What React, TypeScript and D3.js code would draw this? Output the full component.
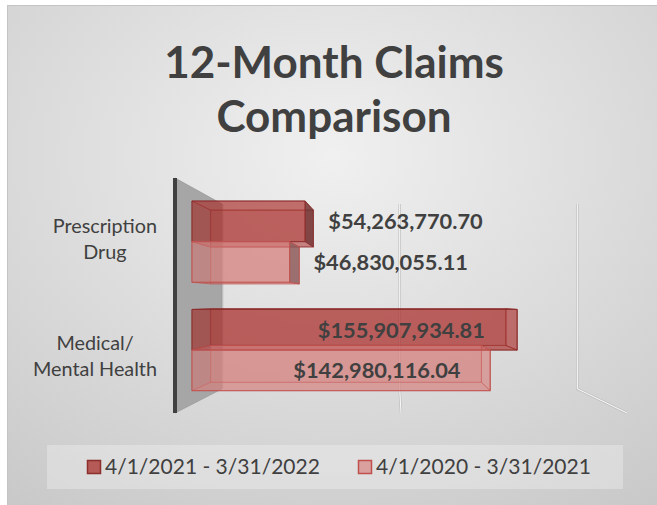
import React, { useEffect, useRef } from "react";
import * as d3 from "d3";

const categories = ["Prescription Drug", "Medical/ Mental Health"];
const categoryLines = [["Prescription", "Drug"], ["Medical/", "Mental Health"]];
const seriesNames = ["4/1/2021 - 3/31/2022", "4/1/2020 - 3/31/2021"];
const values2021 = [54263770.7, 155907934.81];
const values2020 = [46830055.11, 142980116.04];
const gridTicks = [0, 100000000, 200000000];
const titleLines = ["12-Month Claims", "Comparison"];

const W = 657;
const H = 505;
const FONT = "Lato, 'Open Sans', sans-serif";
const TEXT = "#404040";

// perspective
const VX = 395;
const VY = 300;
const WALL_BACK = 0.786;
const BAR_FRONT = 0.923;
const BAR_BACK = 0.838;

const seriesStyle = [
  { fill: "#a92e2a", dark: "#6e3030", edge: "#8b2e2c" },
  { fill: "#d57d7a", dark: "#8a5c5c", edge: "#c0504d" },
];

const fmt = (v: number) => "$" + d3.format(",.2f")(v);

export default function App() {
  const ref = useRef<SVGSVGElement>(null);

  useEffect(() => {
    const svg = d3.select(ref.current);
    svg.selectAll("*").remove();

    const defs = svg.append("defs");
    const rg = defs
      .append("radialGradient")
      .attr("id", "bg")
      .attr("cx", 0.5)
      .attr("cy", 0.3)
      .attr("r", 0.85);
    rg.append("stop").attr("offset", 0).attr("stop-color", "#f0f0f0");
    rg.append("stop").attr("offset", 1).attr("stop-color", "#c9c9c9");

    svg
      .append("rect")
      .attr("x", 7.5)
      .attr("y", 5.5)
      .attr("width", W - 7)
      .attr("height", H - 5)
      .attr("fill", "url(#bg)")
      .attr("stroke", "#c4c4c4")
      .attr("stroke-width", 1);

    // title
    const title = svg
      .append("text")
      .attr("text-anchor", "middle")
      .attr("font-family", FONT)
      .attr("font-weight", 700)
      .attr("font-size", 44)
      .attr("fill", TEXT);
    titleLines.forEach((t, i) => {
      title.append("tspan").attr("x", 334).attr("y", 78 + i * 54).text(t);
    });

    const x = d3.scaleLinear().domain([0, 200000000]).range([175, 627]);
    const y = d3.scaleBand().domain(categories).range([178, 413]).padding(0);
    const ys = d3
      .scaleBand()
      .domain(seriesNames)
      .range([0, y.bandwidth()])
      .paddingInner(0)
      .paddingOuter(0.335);

    const proj = (X: number, Y: number, s: number): [number, number] => [
      VX + (X - VX) * s,
      VY + (Y - VY) * s,
    ];
    const yTop = 178;
    const yBot = 413;

    // gridlines on back wall and floor
    const grid = svg.append("g");
    gridTicks.forEach((t) => {
      const pts: [number, number][] = [
        proj(x(t), yTop, WALL_BACK),
        proj(x(t), yBot, WALL_BACK),
      ];
      if (t !== 0) pts.push(proj(x(t), yBot, 1));
      const line = d3.line();
      grid
        .append("path")
        .attr("d", line(pts))
        .attr("fill", "none")
        .attr("stroke", "#c2c2c2")
        .attr("stroke-width", 2.6);
      grid
        .append("path")
        .attr("d", line(pts))
        .attr("fill", "none")
        .attr("stroke", "#fafafa")
        .attr("stroke-width", 1);
    });

    // side wall
    const wallPts = [
      proj(x(0), yTop, 1),
      proj(x(0), yTop, WALL_BACK),
      proj(x(0), yBot, WALL_BACK),
      proj(x(0), yBot, 1),
    ];
    svg
      .append("polygon")
      .attr("points", wallPts.map((p) => p.join(",")).join(" "))
      .attr("fill", "#a6a6a6")
      .attr("stroke", "#9a9a9a")
      .attr("stroke-width", 0.8);
    svg
      .append("line")
      .attr("x1", x(0))
      .attr("x2", x(0))
      .attr("y1", yTop)
      .attr("y2", yBot)
      .attr("stroke", "#404040")
      .attr("stroke-width", 4);

    // bars
    const seriesValues = [values2021, values2020];
    const bars = svg.append("g");
    const labels = svg.append("g");
    const poly = (pts: [number, number][]) => pts.map((p) => p.join(",")).join(" ");

    categories.forEach((cat, i) => {
      seriesNames.forEach((ser, j) => {
        const v = seriesValues[j][i];
        const st = seriesStyle[j];
        const Yt = (y(cat) as number) + (ys(ser) as number);
        const Yb = Yt + ys.bandwidth();
        const X0 = x(0);
        const X1 = x(v);
        const F = BAR_FRONT;
        const B = BAR_BACK;
        const g = bars.append("g");
        const face = (pts: [number, number][], fill: string, op: number, sop = 0.7) =>
          g
            .append("polygon")
            .attr("points", poly(pts))
            .attr("fill", fill)
            .attr("fill-opacity", op)
            .attr("stroke", st.edge)
            .attr("stroke-opacity", sop)
            .attr("stroke-width", 1)
            .attr("stroke-linejoin", "round");

        face([proj(X0, Yt, B), proj(X1, Yt, B), proj(X1, Yb, B), proj(X0, Yb, B)], st.fill, 0.4, 0.5);
        face([proj(X0, Yt, F), proj(X0, Yb, F), proj(X0, Yb, B), proj(X0, Yt, B)], st.dark, 0.25, 0.4);
        face([proj(X0, Yt, F), proj(X1, Yt, F), proj(X1, Yt, B), proj(X0, Yt, B)], st.fill, 0.25, 0.5);
        face([proj(X0, Yb, F), proj(X1, Yb, F), proj(X1, Yb, B), proj(X0, Yb, B)], st.fill, 0.25, 0.5);
        const rightVisible = X1 < VX;
        face(
          [proj(X1, Yt, F), proj(X1, Yb, F), proj(X1, Yb, B), proj(X1, Yt, B)],
          rightVisible ? st.dark : st.fill,
          rightVisible ? 0.8 : 0.2,
          0.8
        );
        face([proj(X0, Yt, F), proj(X1, Yt, F), proj(X1, Yb, F), proj(X0, Yb, F)], st.fill, 0.55, 0.9);

        const cy = (proj(X0, Yt, F)[1] + proj(X0, Yb, F)[1]) / 2;
        const inside = v > 100000000;
        const lx = inside ? proj(X1, Yt, B)[0] - 21 : (proj(X1, Yt, F)[0] + proj(X1, Yt, B)[0]) / 2 + 19;
        labels
          .append("text")
          .attr("x", lx)
          .attr("y", cy)
          .attr("dy", "0.36em")
          .attr("text-anchor", inside ? "end" : "start")
          .attr("font-family", FONT)
          .attr("font-weight", 700)
          .attr("font-size", 21.8)
          .attr("fill", TEXT)
          .text(fmt(v));
      });
    });

    // category labels (block right-aligned at axis)
    const catG = svg.append("g");
    categories.forEach((cat, i) => {
      const lines = categoryLines[i];
      const cyc = (y(cat) as number) + y.bandwidth() / 2 + 2;
      const t = catG
        .append("text")
        .attr("font-family", FONT)
        .attr("font-size", 19.8)
        .attr("fill", TEXT)
        .attr("text-anchor", "middle");
      const lh = 26;
      lines.forEach((ln, k) => {
        t.append("tspan")
          .attr("x", 0)
          .attr("y", cyc + (k - (lines.length - 1) / 2) * lh)
          .attr("dy", "0.35em")
          .text(ln);
      });
      const node = t.node() as SVGTextElement;
      const w = node.getBBox().width;
      t.selectAll("tspan").attr("x", 157 - w / 2);
    });

    // legend
    const lg = svg.append("g");
    lg.append("rect")
      .attr("x", 47)
      .attr("y", 445)
      .attr("width", 576)
      .attr("height", 44)
      .attr("fill", "#ffffff")
      .attr("fill-opacity", 0.28);
    const legendX = [87, 358];
    const legendFill = ["#b55a57", "#d9a09e"];
    seriesNames.forEach((s, j) => {
      lg.append("rect")
        .attr("x", legendX[j] + 0.5)
        .attr("y", 460.5)
        .attr("width", 13)
        .attr("height", 13)
        .attr("fill", legendFill[j])
        .attr("stroke", seriesStyle[j].edge)
        .attr("stroke-width", 1.5);
      lg.append("text")
        .attr("x", legendX[j] + 18)
        .attr("y", 467)
        .attr("dy", "0.35em")
        .attr("font-family", FONT)
        .attr("font-size", 21)
        .attr("fill", TEXT)
        .text(s);
    });
  }, []);

  return (
    <svg
      ref={ref}
      width={W}
      height={H}
      style={{ position: "absolute", left: 0, top: 0 }}
    />
  );
}
